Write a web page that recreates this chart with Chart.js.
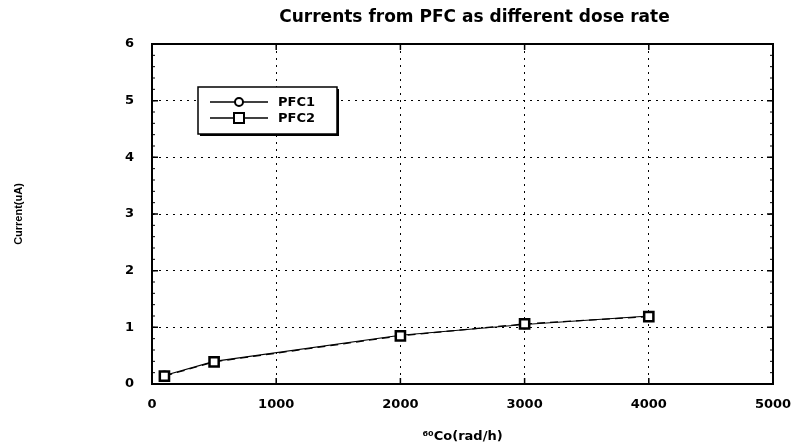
<!DOCTYPE html>
<html>
<head>
<meta charset="utf-8">
<script src="https://cdn.jsdelivr.net/npm/chart.js@4.4.1/dist/chart.umd.min.js"></script>
<style>
  html, body { margin: 0; padding: 0; background: #fff; }
  #wrap { width: 811px; height: 444px; }
</style>
</head>
<body>
<div id="wrap"><canvas id="pfc-chart"></canvas></div>
<script>
// Dose rate (rad/h) and currents (uA)
const doseRates = [100, 500, 2000, 3000, 4000];
const pfc1 = [0.15, 0.40, 0.86, 1.05, 1.20];
const pfc2 = [0.14, 0.39, 0.85, 1.06, 1.19];
const seriesNames = ['PFC1', 'PFC2'];
const xTicks = [0, 1000, 2000, 3000, 4000, 5000];
const yTicks = [0, 1, 2, 3, 4, 5, 6];

const FONT = '"DejaVu Sans", Verdana, sans-serif';

// Frame, inward ticks, title and boxed legend (MATLAB look)
const matlabFrame = {
    id: 'matlabFrame',
    afterDraw(chart) {
        const ctx = chart.ctx;
        const a = chart.chartArea;
        const xs = chart.scales.x, ys = chart.scales.y;
        ctx.save();
        ctx.strokeStyle = '#000';
        ctx.lineWidth = 2;
        ctx.strokeRect(a.left, a.top, a.right - a.left, a.bottom - a.top);

        ctx.lineWidth = 1.5;
        ctx.beginPath();
        xTicks.forEach(v => {
            const px = xs.getPixelForValue(v);
            ctx.moveTo(px, a.bottom); ctx.lineTo(px, a.bottom - 6);
            ctx.moveTo(px, a.top); ctx.lineTo(px, a.top + 6);
        });
        yTicks.forEach(v => {
            const py = ys.getPixelForValue(v);
            ctx.moveTo(a.left, py); ctx.lineTo(a.left + 6, py);
            ctx.moveTo(a.right, py); ctx.lineTo(a.right - 6, py);
        });
        ctx.stroke();

        // minor ticks on the y edges
        ctx.lineWidth = 1;
        ctx.beginPath();
        for (let v = 0.2; v < 6; v += 0.2) {
            const py = ys.getPixelForValue(v);
            ctx.moveTo(a.left, py); ctx.lineTo(a.left + 3, py);
            ctx.moveTo(a.right, py); ctx.lineTo(a.right - 3, py);
        }
        ctx.stroke();

        // title
        ctx.fillStyle = '#000';
        ctx.font = 'bold 17px ' + FONT;
        ctx.textAlign = 'center';
        ctx.textBaseline = 'middle';
        ctx.fillText('Currents from PFC as different dose rate', (a.left + a.right) / 2 + 12, 18);

        // legend box
        const bx = a.left + 46, by = a.top + 43, bw = 139, bh = 47;
        ctx.fillStyle = '#000';
        ctx.fillRect(bx + 2, by + 2, bw, bh);
        ctx.fillStyle = '#fff';
        ctx.fillRect(bx, by, bw, bh);
        ctx.lineWidth = 1.5;
        ctx.strokeRect(bx, by, bw, bh);

        chart.data.datasets.forEach((ds, i) => {
            const ly = by + 15 + i * 16;
            ctx.strokeStyle = '#000';
            ctx.lineWidth = 1.5;
            ctx.beginPath();
            ctx.moveTo(bx + 12, ly); ctx.lineTo(bx + 70, ly);
            ctx.stroke();
            ctx.fillStyle = '#fff';
            ctx.lineWidth = 2;
            ctx.beginPath();
            if (ds.pointStyle === 'rect') {
                ctx.rect(bx + 36, ly - 5, 10, 10);
            } else {
                ctx.arc(bx + 41, ly, 4, 0, Math.PI * 2);
            }
            ctx.fill();
            ctx.stroke();
            ctx.fillStyle = '#000';
            ctx.font = 'bold 13px ' + FONT;
            ctx.textAlign = 'left';
            ctx.fillText(ds.label, bx + 80, ly + 1);
        });
        ctx.restore();
    }
};

const toPoints = ys => doseRates.map((x, i) => ({ x: x, y: ys[i] }));

new Chart(document.getElementById('pfc-chart'), {
    type: 'scatter',
    data: {
        datasets: [{
            label: seriesNames[0],
            data: toPoints(pfc1),
            order: 1,
            showLine: true,
            borderColor: '#000',
            borderWidth: 1.2,
            pointStyle: 'circle',
            pointRadius: 4,
            pointBorderWidth: 2,
            pointBackgroundColor: '#fff',
            pointBorderColor: '#000'
        }, {
            label: seriesNames[1],
            data: toPoints(pfc2),
            order: 0,
            showLine: true,
            borderColor: '#000',
            borderWidth: 1.2,
            borderDash: [8, 5],
            pointStyle: 'rect',
            pointRadius: 6.5,
            pointBorderWidth: 2.5,
            pointBackgroundColor: '#fff',
            pointBorderColor: '#000'
        }]
    },
    options: {
        responsive: true,
        maintainAspectRatio: false,
        animation: false,
        layout: { padding: { left: 0, right: 38, top: 44, bottom: 0 } },
        plugins: {
            legend: { display: false },
            tooltip: { enabled: false }
        },
        scales: {
            x: {
                type: 'linear',
                min: 0,
                max: 5000,
                afterBuildTicks: s => { s.ticks = xTicks.map(v => ({ value: v })); },
                afterFit: s => { s.height = 60; },
                grid: { color: '#000', lineWidth: 1, drawTicks: false },
                border: { display: false, dash: [2, 5] },
                ticks: {
                    padding: 13,
                    color: '#000',
                    callback: v => String(v),
                    font: { family: FONT, size: 13, weight: 'bold' }
                },
                title: {
                    display: true,
                    text: '⁶⁰Co(rad/h)',
                    color: '#000',
                    padding: { top: 5, bottom: 0 },
                    font: { family: FONT, size: 13, weight: 'bold' }
                }
            },
            y: {
                type: 'linear',
                min: 0,
                max: 6,
                afterBuildTicks: s => { s.ticks = yTicks.map(v => ({ value: v })); },
                afterFit: s => { s.width = 152; },
                grid: { color: '#000', lineWidth: 1, drawTicks: false },
                border: { display: false, dash: [2, 5] },
                ticks: {
                    padding: 18,
                    color: '#000',
                    font: { family: FONT, size: 13, weight: 'bold' }
                },
                title: {
                    display: true,
                    text: 'Current(uA)',
                    color: '#000',
                    padding: { top: 12, bottom: 0 },
                    font: { family: '"Liberation Sans Narrow", "Liberation Sans", Arial, sans-serif', size: 11, weight: 'bold' }
                }
            }
        }
    },
    plugins: [matlabFrame]
});
</script>
</body>
</html>
